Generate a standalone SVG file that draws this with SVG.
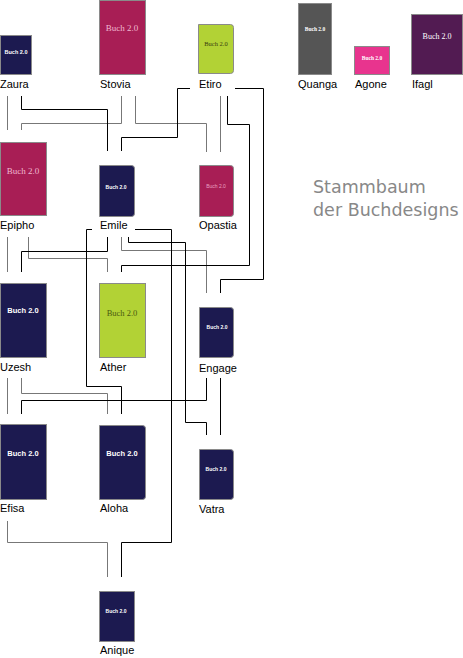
<svg xmlns="http://www.w3.org/2000/svg" width="463" height="658" viewBox="0 0 463 658">
<style>
.lbl{font-family:"Liberation Sans",Arial,sans-serif;font-size:11px;fill:#000}
.bk{stroke:#8a8a8a;stroke-width:1}
.navy{fill:#1c1a50}
.crim{fill:#a81e55}
.lime{fill:#b2d235}
.bt{font-family:"Liberation Serif","Times New Roman",serif;text-anchor:middle;fill:#fff}
.bs{font-family:"Liberation Sans",Arial,sans-serif;text-anchor:middle;fill:#fff}
.g{fill:none;stroke:#777;stroke-width:1}
.k{fill:none;stroke:#000;stroke-width:1}
.title{font-family:"DejaVu Sans",Verdana,sans-serif;font-size:17.5px;fill:#888}
</style>
<rect width="463" height="658" fill="#fff"/>
<g id="connectors">
<path class="g" d="M7.5 96V130"/>
<path class="g" d="M121.5 96V123.5H21.5V130"/>
<path class="g" d="M135.5 96V123.5H206.5V152"/>
<path class="g" d="M220.5 96V152"/>
<path class="g" d="M7.5 237V272"/>
<path class="g" d="M28.5 237V258.5H107.5V272"/>
<path class="g" d="M121.5 237V250.5H206.5V293"/>
<path class="g" d="M7.5 378V414"/>
<path class="g" d="M21.5 378V393.5H107.5V414"/>
<path class="g" d="M7.5 521V542.5H107.5V577"/>
<path class="k" d="M21.5 96V109.5H107.5V151"/>
<path class="k" d="M190 88.5H177.5V137.5H121.5V151"/>
<path class="k" d="M227.5 96V124.5H249.5V265.5H121.5V272"/>
<path class="k" d="M235 88.5H263.5V279.5H220.5V293"/>
<path class="k" d="M107.5 237V251.5H21.5V272"/>
<path class="k" d="M92 229.5H86.5V386.5H121.5V414"/>
<path class="k" d="M135 229.5H171.5V542.5H121.5V577"/>
<path class="k" d="M128.5 237V242.5H185.5V422.5H206.5V435"/>
<path class="k" d="M206.5 378V400.5H21.5V414"/>
<path class="k" d="M220.5 378V435"/>
</g>
<g id="zaura"><rect class="bk navy" x="0.5" y="35.5" width="31" height="39"/><text class="bs" x="16" y="54" font-size="5.5" font-weight="bold">Buch 2.0</text><text class="lbl" x="0" y="88">Zaura</text></g>
<g id="stovia"><rect class="bk crim" x="99.5" y="0.5" width="46" height="74"/><text class="bt" x="122" y="31" font-size="9" fill="#f0b8d0" style="fill:#f0b8d0">Buch 2.0</text><text class="lbl" x="100" y="88">Stovia</text></g>
<g id="etiro"><path class="bk lime" d="M198.5 24.5H230.5Q233.5 24.5 233.5 27.5V70.5Q233.5 73.5 230.5 73.5H198.5Z"/><text class="bt" x="216" y="46" font-size="6.5" style="fill:#3a4010">Buch 2.0</text><text class="lbl" x="199" y="88">Etiro</text></g>
<g id="quanga"><rect class="bk" fill="#555" x="298.5" y="3.5" width="33" height="71"/><text class="bt" x="315" y="31" font-size="5.5" font-weight="bold">Buch 2.0</text><text class="lbl" x="298" y="88">Quanga</text></g>
<g id="agone"><rect class="bk" fill="#e8348e" x="354.5" y="46.5" width="35" height="28"/><text class="bt" x="372" y="60" font-size="5.5" font-weight="bold">Buch 2.0</text><text class="lbl" x="355" y="88">Agone</text></g>
<g id="ifagl"><rect class="bk" fill="#521b52" x="411.5" y="14.5" width="51" height="60"/><text class="bt" x="437" y="38.5" font-size="8">Buch 2.0</text><text class="lbl" x="412" y="88">Ifagl</text></g>
<g id="epipho"><rect class="bk crim" x="0.5" y="142.5" width="46" height="73"/><text class="bt" x="23" y="174" font-size="9" style="fill:#f0b8d0">Buch 2.0</text><text class="lbl" x="0" y="229">Epipho</text></g>
<g id="emile"><path class="bk navy" d="M99.5 165.5H131.5Q134.5 165.5 134.5 168.5V213.5Q134.5 216.5 131.5 216.5H99.5Z"/><text class="bs" x="116" y="189" font-size="5" font-weight="bold">Buch 2.0</text><text class="lbl" x="100" y="229">Emile</text></g>
<g id="opastia"><path class="bk crim" d="M199.5 165.5H230.5Q233.5 165.5 233.5 168.5V213.5Q233.5 216.5 230.5 216.5H199.5Z"/><text class="bs" x="216" y="188" font-size="5" style="fill:#e8a0c0">Buch 2.0</text><text class="lbl" x="199" y="229">Opastia</text></g>
<g id="uzesh"><rect class="bk navy" x="0.5" y="283.5" width="46" height="74"/><text class="bs" x="23" y="313" font-size="7.5" font-weight="bold">Buch 2.0</text><text class="lbl" x="0" y="371">Uzesh</text></g>
<g id="ather"><rect class="bk lime" x="99.5" y="283.5" width="46" height="74"/><text class="bt" x="122" y="316" font-size="8.5" style="fill:#4a5a10">Buch 2.0</text><text class="lbl" x="100" y="371">Ather</text></g>
<g id="engage"><path class="bk navy" d="M199.5 307.5H230.5Q233.5 307.5 233.5 310.5V354.5Q233.5 357.5 230.5 357.5H199.5Z"/><text class="bs" x="217" y="329" font-size="5" font-weight="bold">Buch 2.0</text><text class="lbl" x="199" y="372">Engage</text></g>
<g id="efisa"><rect class="bk navy" x="0.5" y="424.5" width="46" height="75"/><text class="bs" x="23" y="456" font-size="7.5" font-weight="bold">Buch 2.0</text><text class="lbl" x="0" y="512">Efisa</text></g>
<g id="aloha"><path class="bk navy" d="M99.5 425.5H142.5Q145.5 425.5 145.5 428.5V496.5Q145.5 499.5 142.5 499.5H99.5Z"/><text class="bs" x="122" y="456" font-size="7.5" font-weight="bold">Buch 2.0</text><text class="lbl" x="100" y="512">Aloha</text></g>
<g id="vatra"><path class="bk navy" d="M199.5 449.5H230.5Q233.5 449.5 233.5 452.5V496.5Q233.5 499.5 230.5 499.5H199.5Z"/><text class="bs" x="216" y="471" font-size="5" font-weight="bold">Buch 2.0</text><text class="lbl" x="199" y="513">Vatra</text></g>
<g id="anique"><rect class="bk navy" x="99.5" y="591.5" width="35" height="50"/><text class="bs" x="116" y="613" font-size="5" font-weight="bold">Buch 2.0</text><text class="lbl" x="100" y="654">Anique</text></g>
<g id="title"><text class="title" x="313" y="193">Stammbaum</text><text class="title" x="313" y="216">der Buchdesigns</text></g>
</svg>
